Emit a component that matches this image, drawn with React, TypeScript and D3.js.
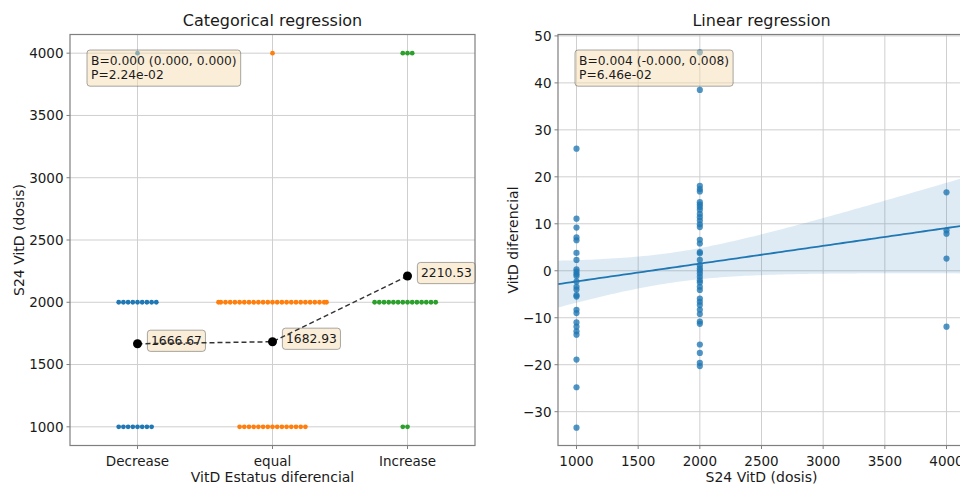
import React, { useEffect, useRef } from "react";
import * as d3 from "d3";

// ---- left panel: categorical swarm ----
const categories = ["Decrease", "equal", "Increase"];
const doseLevels = [1000, 2000, 4000];
const decreaseCounts = [8, 9, 1];
const equalCounts = [15, 25, 1];
const increaseCounts = [2, 14, 3];
const categoryMeans = [1666.67, 1682.93, 2210.53];
const meanLabels = ["1666.67", "1682.93", "2210.53"];
const leftYTicks = [1000, 1500, 2000, 2500, 3000, 3500, 4000];
const catStats = ["B=0.000 (0.000, 0.000)", "P=2.24e-02"];

// ---- right panel: linear regression ----
const diffAt1000 = [26.0, 11.1, 9.2, 7.1, 6.5, 3.8, 2.3, 0.3, -0.2, -0.7, -1.1, -2.3, -3.4, -4.0, -5.2, -5.5, -8.3, -9.0, -11.0, -11.9, -12.9, -13.6, -18.9, -24.8, -33.4];
const diffAt2000 = [46.5, 38.5, 18.1, 17.4, 16.9, 14.6, 14.1, 13.6, 13.0, 12.1, 11.4, 10.7, 9.9, 9.3, 6.6, 5.8, 4.0, 3.7, 2.3, 1.2, 0.5, 0.0, -0.6, -1.3, -2.0, -2.5, -3.4, -4.1, -5.9, -6.6, -7.3, -8.3, -9.2, -10.8, -11.3, -15.7, -17.5, -19.6, -20.3];
const diffAt4000 = [16.7, 8.6, 7.9, 2.6, -11.9];
const rightXTicks = [1000, 1500, 2000, 2500, 3000, 3500, 4000];
const rightYTicks = [-30, -20, -10, 0, 10, 20, 30, 40, 50];
const linStats = ["B=0.004 (-0.000, 0.008)", "P=6.46e-02"];

const FONT = "DejaVu Sans, sans-serif";
const TOP = 34.5;
const BOTTOM = 445.5;
const swarmColors = ["#1f77b4", "#ff7f0e", "#2ca02c"];

function fmtMinus(v: number) {
  return v < 0 ? "\u2212" + Math.abs(v) : String(v);
}

function drawFrame(
  gridG: any, frameG: any, xs: any, ys: any,
  xTicks: { pos: number; label: string }[], yTicks: number[],
  title: string, xLabel: string, yLabel: string, yLabelX: number
) {
  const [x0, x1] = xs.range();
  // grid
  gridG.selectAll(null).data(xTicks).join("line")
    .attr("x1", (d: any) => d.pos).attr("x2", (d: any) => d.pos)
    .attr("y1", TOP).attr("y2", BOTTOM)
    .attr("stroke", "#cfcfcf").attr("stroke-width", 1);
  gridG.selectAll(null).data(yTicks).join("line")
    .attr("x1", x0).attr("x2", x1)
    .attr("y1", (d: number) => ys(d)).attr("y2", (d: number) => ys(d))
    .attr("stroke", "#cfcfcf").attr("stroke-width", 1);

  // spines
  frameG.append("rect")
    .attr("x", x0).attr("y", TOP).attr("width", x1 - x0).attr("height", BOTTOM - TOP)
    .attr("fill", "none").attr("stroke", "#7f7f7f").attr("stroke-width", 1.2);

  // ticks
  frameG.selectAll(null).data(xTicks).join("line")
    .attr("x1", (d: any) => d.pos).attr("x2", (d: any) => d.pos)
    .attr("y1", BOTTOM).attr("y2", BOTTOM + 3.5)
    .attr("stroke", "#7f7f7f");
  frameG.selectAll(null).data(xTicks).join("text")
    .attr("x", (d: any) => d.pos).attr("y", 466)
    .attr("text-anchor", "middle")
    .attr("font-family", FONT).attr("font-size", 13.5).attr("fill", "#1a1a1a")
    .text((d: any) => d.label);
  frameG.selectAll(null).data(yTicks).join("line")
    .attr("x1", x0 - 3.5).attr("x2", x0)
    .attr("y1", (d: number) => ys(d)).attr("y2", (d: number) => ys(d))
    .attr("stroke", "#7f7f7f");
  frameG.selectAll(null).data(yTicks).join("text")
    .attr("x", x0 - 6.5).attr("y", (d: number) => ys(d))
    .attr("dy", "0.36em")
    .attr("text-anchor", "end")
    .attr("font-family", FONT).attr("font-size", 13.5).attr("fill", "#1a1a1a")
    .text((d: number) => fmtMinus(d));

  // labels
  const cx = (x0 + x1) / 2;
  frameG.append("text")
    .attr("x", cx).attr("y", 26).attr("text-anchor", "middle")
    .attr("font-family", FONT).attr("font-size", 16).attr("fill", "#1a1a1a")
    .text(title);
  frameG.append("text")
    .attr("x", cx).attr("y", 482).attr("text-anchor", "middle")
    .attr("font-family", FONT).attr("font-size", 14).attr("fill", "#1a1a1a")
    .text(xLabel);
  frameG.append("text")
    .attr("transform", `translate(${yLabelX},${(TOP + BOTTOM) / 2}) rotate(-90)`)
    .attr("text-anchor", "middle")
    .attr("font-family", FONT).attr("font-size", 14).attr("fill", "#1a1a1a")
    .text(yLabel);
}

function labelBox(g: any, x: number, y: number, lines: string[], pad: number) {
  const box = g.append("g");
  const rect = box.append("rect");
  const txt = box.append("text")
    .attr("font-family", FONT).attr("font-size", 12.3).attr("fill", "#1a1a1a");
  lines.forEach((l, i) => {
    txt.append("tspan").attr("x", x).attr("y", y + i * 14.2).text(l);
  });
  const bb = (txt.node() as SVGTextElement).getBBox();
  rect.attr("x", bb.x - pad).attr("y", bb.y - pad)
    .attr("width", bb.width + pad * 2).attr("height", bb.height + pad * 2)
    .attr("rx", 3)
    .attr("fill", "#f5deb3").attr("fill-opacity", 0.5)
    .attr("stroke", "#555").attr("stroke-opacity", 0.5).attr("stroke-width", 1);
  return box;
}

export default function App() {
  const ref = useRef<SVGSVGElement>(null);

  useEffect(() => {
    const svg = d3.select(ref.current);
    svg.selectAll("*").remove();
    svg.append("rect").attr("width", 960).attr("height", 485).attr("fill", "#fff");

    // ================= left panel =================
    const xL = d3.scaleLinear().domain([-0.5, 2.5]).range([70, 475]);
    const yL = d3.scaleLinear().domain([850, 4150]).range([BOTTOM, TOP]);
    const gridL = svg.append("g");
    const dataL = svg.append("g");
    const frameL = svg.append("g");

    drawFrame(
      gridL, frameL, xL, yL,
      categories.map((c, i) => ({ pos: xL(i), label: c })),
      leftYTicks,
      "Categorical regression", "VitD Estatus diferencial", "S24 VitD (dosis)", 24
    );

    const countsByCat = [decreaseCounts, equalCounts, increaseCounts];
    const spacing = 4.7;
    const maxOff = 0.4 * (xL(1) - xL(0));
    const swarm: { x: number; y: number; c: number }[] = [];
    countsByCat.forEach((counts, ci) => {
      counts.forEach((n, di) => {
        for (let k = 0; k < n; k++) {
          const step = k === 0 ? 0 : k % 2 === 1 ? -(k + 1) / 2 : k / 2;
          const off = Math.max(-maxOff, Math.min(maxOff, step * spacing));
          swarm.push({ x: xL(ci) + off, y: yL(doseLevels[di]), c: ci });
        }
      });
    });
    dataL.selectAll(null).data(swarm).join("circle")
      .attr("cx", (d) => d.x).attr("cy", (d) => d.y).attr("r", 2.4)
      .attr("fill", (d) => swarmColors[d.c]);

    labelBox(dataL, xL(-0.5) + 21, 65, catStats, 4);

    categoryMeans.forEach((m, i) => {
      labelBox(dataL, xL(i) + 13.5, yL(m) + 1, [meanLabels[i]], 3.6);
    });
    const meanLine = d3.line<number>().x((d, i) => xL(i)).y((d) => yL(d));
    dataL.append("path")
      .attr("d", meanLine(categoryMeans))
      .attr("fill", "none").attr("stroke", "#333").attr("stroke-width", 1.5)
      .attr("stroke-dasharray", "5,3");
    dataL.selectAll(null).data(categoryMeans).join("circle")
      .attr("cx", (d, i) => xL(i)).attr("cy", (d) => yL(d)).attr("r", 4.5)
      .attr("fill", "#000");

    // ================= right panel =================
    const xR = d3.scaleLinear().domain([850, 4150]).range([558, 965]);
    const yR = d3.scaleLinear().domain([-37.2, 50.3]).range([BOTTOM, TOP]);
    const gridR = svg.append("g");
    const dataR = svg.append("g");
    const frameR = svg.append("g");

    drawFrame(
      gridR, frameR, xR, yR,
      rightXTicks.map((t) => ({ pos: xR(t), label: String(t) })),
      rightYTicks,
      "Linear regression", "S24 VitD (dosis)", "VitD diferencial", 518
    );

    const pts: [number, number][] = [
      ...diffAt1000.map((v) => [1000, v] as [number, number]),
      ...diffAt2000.map((v) => [2000, v] as [number, number]),
      ...diffAt4000.map((v) => [4000, v] as [number, number]),
    ];

    dataR.selectAll(null).data(pts).join("circle")
      .attr("cx", (d) => xR(d[0])).attr("cy", (d) => yR(d[1])).attr("r", 3.1)
      .attr("fill", "#1f77b4").attr("fill-opacity", 0.78);

    // ordinary least squares with 95% confidence band
    const n = pts.length;
    const mx = d3.mean(pts, (d) => d[0]) as number;
    const my = d3.mean(pts, (d) => d[1]) as number;
    const sxx = d3.sum(pts, (d) => (d[0] - mx) ** 2);
    const sxy = d3.sum(pts, (d) => (d[0] - mx) * (d[1] - my));
    const slope = sxy / sxx;
    const icpt = my - slope * mx;
    const s = Math.sqrt(d3.sum(pts, (d) => (d[1] - icpt - slope * d[0]) ** 2) / (n - 2));
    const tcrit = 1.996;
    const [dx0, dx1] = xR.domain();
    const xsamp = d3.range(0, 101).map((i) => dx0 + ((dx1 - dx0) * i) / 100);
    const half = (x: number) => tcrit * s * Math.sqrt(1 / n + (x - mx) ** 2 / sxx);

    dataR.append("path")
      .attr("d", d3.area<number>()
        .x((d) => xR(d))
        .y0((d) => yR(icpt + slope * d - half(d)))
        .y1((d) => yR(icpt + slope * d + half(d)))(xsamp))
      .attr("fill", "#1f77b4").attr("fill-opacity", 0.15);
    dataR.append("path")
      .attr("d", d3.line<number>().x((d) => xR(d)).y((d) => yR(icpt + slope * d))(xsamp))
      .attr("fill", "none").attr("stroke", "#1f77b4").attr("stroke-width", 1.8);

    labelBox(dataR, xR(850) + 21, 65, linStats, 4);
  }, []);

  return (
    <div style={{ position: "absolute", left: 0, top: 0 }}>
      <svg ref={ref} width={960} height={485} style={{ display: "block" }} />
    </div>
  );
}
